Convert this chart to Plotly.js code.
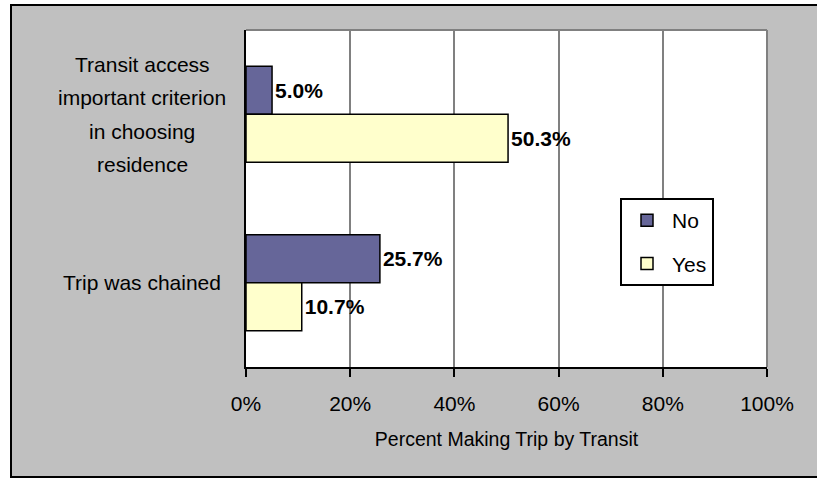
<!DOCTYPE html>
<html>
<head>
<meta charset="utf-8">
<script src="https://cdn.plot.ly/plotly-3.0.1.min.js"></script>
<style>html,body{margin:0;padding:0;background:#fff;}#chart{width:817px;height:478px;}</style>
</head>
<body>
<div id="chart"></div>
<script>
var categories = ["Transit access important criterion in choosing residence", "Trip was chained"];
var categoryLines = [["Transit access", "important criterion", "in choosing", "residence"], ["Trip was chained"]];
var seriesNames = ["No", "Yes"];
var noValues = [0.050, 0.257];
var yesValues = [0.503, 0.107];
var xTickVals = [0, 0.2, 0.4, 0.6, 0.8, 1.0];
var xTickText = ["0%", "20%", "40%", "60%", "80%", "100%"];
var xTitle = "Percent Making Trip by Transit";

var FONT = "'Liberation Sans Narrow', 'Arial Narrow', 'Liberation Sans', Arial, sans-serif";

function barTrace(name, values, color) {
  return {
    type: "bar", orientation: "h", name: name, legendgroup: name,
    y: categories, x: values,
    marker: {color: color, line: {color: "#000000", width: 1.5}},
    text: values.map(function(v){ return (v*100).toFixed(1) + "%"; }),
    textposition: "outside", cliponaxis: false,
    textfont: {family: FONT, size: 21, color: "#000000", weight: "bold"},
    hoverinfo: "none"
  };
}

var data = [
  barTrace(seriesNames[0], noValues, "#666699"),
  barTrace(seriesNames[1], yesValues, "#FFFFCC")
];

var L = 246, R = 767, T = 30, B = 367, W = 817, H = 478;
function px(x){ return (x - L) / (R - L); }
function py(y){ return (B - y) / (B - T); }

var LINE_GAP = 33.5;
var annotations = [];
categories.forEach(function(c, i){
  var lines = categoryLines[i];
  lines.forEach(function(t, j){
    annotations.push({
      xref: "paper", yref: "y", x: px(142), y: c, xanchor: "center", yanchor: "middle",
      yshift: -(j - (lines.length - 1) / 2) * LINE_GAP,
      text: t, showarrow: false,
      font: {family: FONT, size: 21, color: "#000000"}
    });
  });
});

var layout = {
  width: W, height: H,
  margin: {l: L, r: W - R, t: T, b: H - B, pad: 0},
  paper_bgcolor: "#ffffff",
  plot_bgcolor: "rgba(0,0,0,0)",
  font: {family: FONT, size: 21, color: "#000000"},
  barmode: "group", bargap: 0.43, bargroupgap: 0,
  showlegend: true,
  legend: {
    x: px(620), y: py(198), xanchor: "left", yanchor: "top",
    bgcolor: "#ffffff", bordercolor: "#000000", borderwidth: 2,
    font: {family: FONT, size: 21, color: "#000000"},
    traceorder: "grouped", tracegroupgap: 13, itemwidth: 40
  },
  xaxis: {
    range: [0, 1], tickvals: xTickVals, ticktext: xTickText,
    showgrid: true, gridcolor: "#808080", gridwidth: 2,
    showline: true, linecolor: "#000000", linewidth: 2,
    ticks: "outside", ticklen: 8, tickwidth: 2, tickcolor: "#000000",
    ticklabelstandoff: 9,
    zeroline: false, fixedrange: true,
    tickfont: {family: FONT, size: 21, color: "#000000"},
    title: {text: xTitle, standoff: 18, font: {family: FONT, size: 19.5, color: "#000000"}}
  },
  yaxis: {
    type: "category", categoryorder: "array", categoryarray: categories,
    autorange: "reversed",
    showticklabels: false, showgrid: false, zeroline: false,
    showline: true, linecolor: "#000000", linewidth: 2, ticks: "", fixedrange: true
  },
  shapes: [
    {type: "rect", xref: "paper", yref: "paper", layer: "below",
     x0: px(11), x1: px(822), y0: py(477), y1: py(5),
     fillcolor: "#C0C0C0", line: {color: "#000000", width: 2}},
    {type: "rect", xref: "paper", yref: "paper", layer: "below",
     x0: 0, x1: 1, y0: 0, y1: 1, fillcolor: "#ffffff", line: {width: 0}},
    {type: "line", xref: "paper", yref: "paper", layer: "above",
     x0: 0, x1: 1, y0: 1, y1: 1, line: {color: "#808080", width: 2}},
    {type: "line", xref: "paper", yref: "paper", layer: "above",
     x0: 1, x1: 1, y0: 0, y1: 1, line: {color: "#808080", width: 2}}
  ],
  annotations: annotations
};

Plotly.newPlot("chart", data, layout, {displayModeBar: false, staticPlot: true});
</script>
</body>
</html>
